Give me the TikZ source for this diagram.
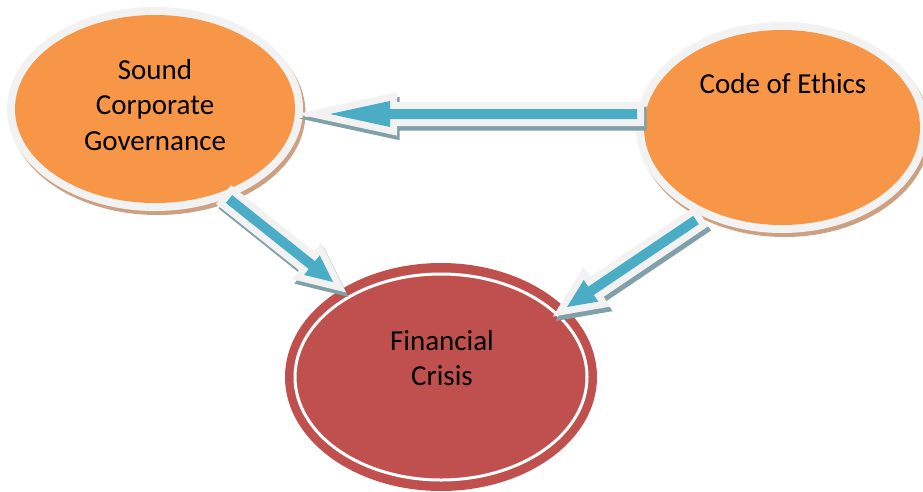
\documentclass[tikz,border=0pt]{standalone}
\usepackage{fontspec}
\setmainfont{Carlito}
\usetikzlibrary{calc}
\definecolor{orng}{HTML}{F79646}
\definecolor{rred}{HTML}{C0504D}
\definecolor{arrblue}{HTML}{4BACC6}
\definecolor{ringgray}{HTML}{F2F2F2}
\definecolor{brownsh}{RGB}{204,160,128}
\definecolor{bluesh}{RGB}{128,160,170}
\tikzset{
  arrshadow/.style={fill=bluesh, draw=bluesh, line width=14pt, line join=miter},
  arrouter/.style={fill=ringgray, draw=ringgray, line width=14pt, line join=miter},
  arrinner/.style={fill=arrblue},
  lbl/.style={align=center, font=\fontsize{29}{35.5}\selectfont, inner sep=0pt, text=black}
}
\newcommand{\blockarrow}[5]{%
  \coordinate (#5h) at ($(#2)!#3pt!(#1)$);
  \coordinate (#5a1) at ($(#1)!5pt!90:(#2)$);
  \coordinate (#5a2) at ($(#1)!5pt!-90:(#2)$);
  \coordinate (#5b1) at ($(#5h)!5pt!90:(#2)$);
  \coordinate (#5b2) at ($(#5h)!5pt!-90:(#2)$);
  \coordinate (#5c1) at ($(#5h)!#4pt!90:(#2)$);
  \coordinate (#5c2) at ($(#5h)!#4pt!-90:(#2)$);
  \begin{scope}[transform canvas={shift={(2.5,4.5)}}]
    \filldraw[arrshadow] (#5a1) -- (#5b1) -- (#5c1) -- (#2) -- (#5c2) -- (#5b2) -- (#5a2) -- cycle;
  \end{scope}
  \filldraw[arrouter] (#5a1) -- (#5b1) -- (#5c1) -- (#2) -- (#5c2) -- (#5b2) -- (#5a2) -- cycle;
  \fill[arrinner] (#5a1) -- (#5b1) -- (#5c1) -- (#2) -- (#5c2) -- (#5b2) -- (#5a2) -- cycle;
}
\begin{document}
\begin{tikzpicture}[x=1pt,y=-1pt]
\useasboundingbox (0,0) rectangle (923,491);
\fill[white] (0,0) rectangle (923,491);

% Sound Corporate Governance
\fill[brownsh] (157.5,113) ellipse [x radius=148, y radius=102];
\fill[ringgray] (155,109) ellipse [x radius=148, y radius=102];
\fill[orng] (155,109) ellipse [x radius=140, y radius=94];

% Code of Ethics
\fill[brownsh] (784.5,131.5) ellipse [x radius=146, y radius=105.5];
\fill[ringgray] (782,127.5) ellipse [x radius=146, y radius=105.5];
\fill[orng] (782,127.5) ellipse [x radius=138, y radius=97.5];

% Financial Crisis
\fill[rred] (441,377) ellipse [x radius=156, y radius=114];
\draw[white, line width=3pt] (441,377) ellipse [x radius=146, y radius=103];

% coordinates of connectors
\coordinate (h1s) at (637,114);
\coordinate (h1t) at (330,114);
\coordinate (d1s) at (229,199);
\coordinate (d1t) at (333,282);
\coordinate (d2s) at (696,220);
\coordinate (d2t) at (567,307);

\blockarrow{h1s}{h1t}{60}{13}{ha}
\blockarrow{d1s}{d1t}{27}{12.5}{da}
\blockarrow{d2s}{d2t}{29}{13}{db}

\node[lbl] (scgt) at (155,105) {Sound\\Corporate\\Governance};
\node[lbl, anchor=base] (coet) at (783,93) {Code of Ethics};
\node[lbl] (fct) at (442,358) {Financial\\Crisis};
\end{tikzpicture}
\end{document}
